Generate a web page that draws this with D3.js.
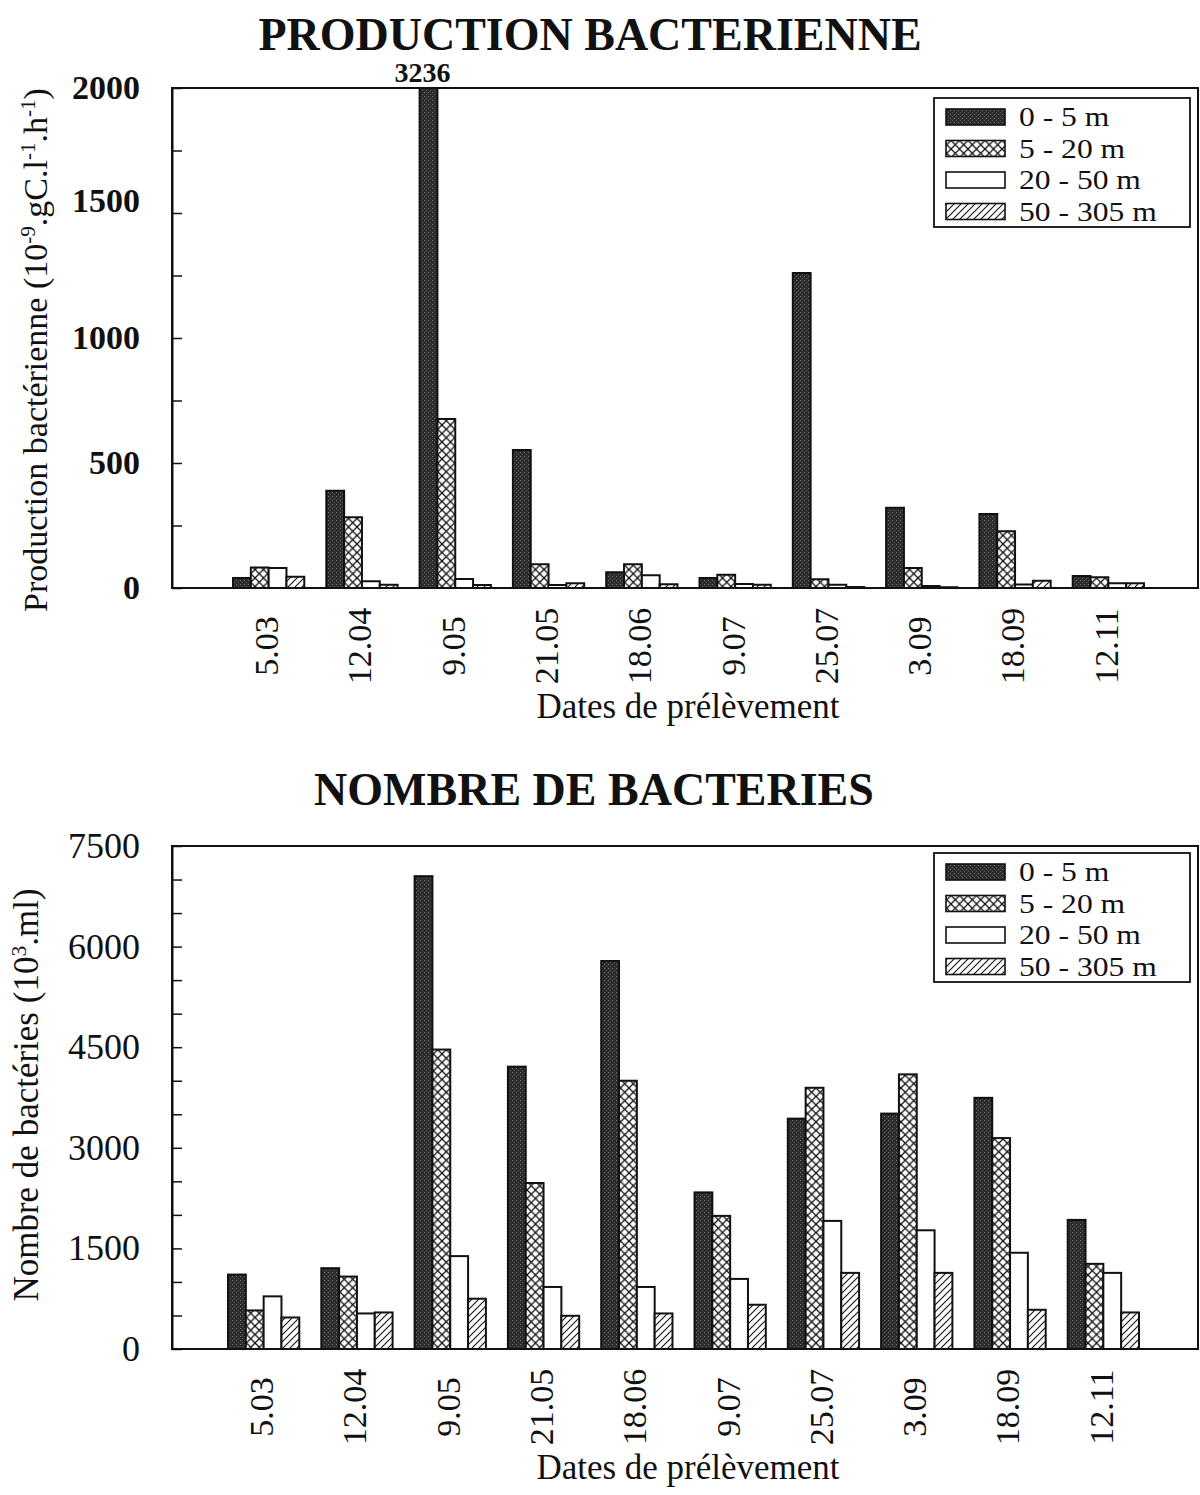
<!DOCTYPE html>
<html><head><meta charset="utf-8">
<script src="https://cdn.jsdelivr.net/npm/d3@7"></script>
<style>
body{margin:0;background:#fff}
svg{display:block}
text{font-family:"Liberation Serif","Times New Roman",serif;fill:#111}
</style>
</head><body>
<svg id="c" width="1200" height="1495"></svg>
<script>
// ---------- DATA ----------
const dates = ["5.03","12.04","9.05","21.05","18.06","9.07","25.07","3.09","18.09","12.11"];
const layers = ["0 - 5 m","5 - 20 m","20 - 50 m","50 - 305 m"];

const prod_0_5   = [40, 389, 3236, 552, 63, 40, 1260, 321, 296, 48];
const prod_5_20  = [82, 283, 676, 95, 95, 53, 35, 80, 227, 43];
const prod_20_50 = [80, 27, 36, 12, 51, 16, 13, 8, 14, 19];
const prod_50_305= [45, 13, 12, 19, 15, 13, 4, 3, 29, 19];
const prodTicks  = [0, 500, 1000, 1500, 2000];

const nb_0_5   = [1110, 1205, 7050, 4210, 5785, 2335, 3435, 3510, 3745, 1925];
const nb_5_20  = [575, 1080, 4465, 2475, 4000, 1985, 3895, 4095, 3145, 1270];
const nb_20_50 = [785, 530, 1385, 925, 925, 1045, 1910, 1770, 1435, 1135];
const nb_50_305= [470, 545, 750, 495, 530, 660, 1135, 1135, 585, 545];
const nbTicks  = [0, 1500, 3000, 4500, 6000, 7500];

// ---------- PATTERNS ----------
const svg = d3.select("#c");
const defs = svg.append("defs");
const st = defs.append("pattern").attr("id","pDark").attr("patternUnits","userSpaceOnUse").attr("width",4).attr("height",4);
st.append("rect").attr("width",4).attr("height",4).attr("fill","#2c2c2c");
st.append("rect").attr("x",0).attr("y",0).attr("width",1).attr("height",1).attr("fill","#777");
st.append("rect").attr("x",2).attr("y",2).attr("width",1).attr("height",1).attr("fill","#5a5a5a");
const ch = defs.append("pattern").attr("id","pCross").attr("patternUnits","userSpaceOnUse").attr("width",8.5).attr("height",8.5);
ch.append("rect").attr("width",8.5).attr("height",8.5).attr("fill","#fff");
ch.append("path").attr("d","M0,0L8.5,8.5M8.5,0L0,8.5").attr("stroke","#111").attr("stroke-width",1.3);
const dh = defs.append("pattern").attr("id","pDiag").attr("patternUnits","userSpaceOnUse").attr("width",7).attr("height",7);
dh.append("rect").attr("width",7).attr("height",7).attr("fill","#fff");
dh.append("path").attr("d","M-1,8L8,-1M-1,1L1,-1M6,8L8,6").attr("stroke","#111").attr("stroke-width",1.1);
const fills = ["url(#pDark)","url(#pCross)","#fff","url(#pDiag)"];

function chart(cfg){
  const g = svg.append("g");
  const L = 172, R = 1198;
  const y = d3.scaleLinear().domain([0, cfg.max]).range([cfg.bottom, cfg.top]).clamp(true);
  const x = d3.scaleBand().domain(dates).range([cfg.x0, cfg.x0 + 933]).paddingInner(0.236).paddingOuter(0.118);
  const xs = d3.scaleBand().domain(layers).range([0, x.bandwidth()]);
  const series = cfg.series;

  layers.forEach((lay, li) => {
    g.append("g").selectAll("rect").data(series[li]).join("rect")
      .attr("x", (d,i) => x(dates[i]) + xs(lay))
      .attr("y", d => y(d))
      .attr("width", xs.bandwidth())
      .attr("height", d => Math.max(0, cfg.bottom - y(d)))
      .attr("fill", fills[li])
      .attr("stroke", "#111").attr("stroke-width", 2);
  });

  g.append("path").attr("d", `M${L},${cfg.top}H${R}V${cfg.bottom}H${L}Z`)
    .attr("fill","none").attr("stroke","#111").attr("stroke-width",2);

  const ax = d3.axisLeft(y)
    .tickValues(d3.range(0, cfg.max + 1, cfg.minor))
    .tickSize(-10).tickSizeOuter(0).tickPadding(cfg.tickPad)
    .tickFormat(d => cfg.majors.includes(d) ? String(d) : "");
  const ag = g.append("g").attr("transform", `translate(${L},0)`).call(ax);
  ag.select(".domain").attr("stroke","#111").attr("stroke-width",2);
  ag.selectAll(".tick line").attr("stroke","#111").attr("stroke-width",1.5);
  ag.selectAll(".tick text").attr("font-family","Liberation Serif")
    .attr("font-size", cfg.tickSize).attr("font-weight", cfg.tickWeight).attr("fill","#111")
    .attr("dy", d => (cfg.labelNudge && cfg.labelNudge[d]) ? (0.32 + cfg.labelNudge[d]) + "em" : "0.32em");

  const xp = d3.scalePoint().domain(dates).range([x(dates[0]) + x.bandwidth()/2, x(dates[9]) + x.bandwidth()/2]);
  const xa = d3.axisBottom(xp).tickSize(0).tickSizeOuter(0);
  const xg = g.append("g").attr("transform", `translate(0,${cfg.bottom})`).call(xa);
  xg.select(".domain").remove();
  xg.selectAll(".tick text")
    .attr("font-family","Liberation Serif").attr("font-size",34).attr("fill","#111")
    .attr("text-anchor","middle").attr("y",0).attr("dy","0.35em")
    .attr("transform", `translate(-3,${cfg.labelOff}) rotate(-90)`);

  g.append("text").attr("x", 688).attr("y", cfg.bottom + 130).attr("text-anchor","middle")
    .attr("font-size", 35).text("Dates de prélèvement");

  g.append("text").attr("x", cfg.titleX).attr("y", cfg.titleY).attr("text-anchor","middle")
    .attr("font-size", 46).attr("font-weight","bold").text(cfg.title);

  const yt = g.append("text").attr("transform", `translate(${cfg.yTitleX},${cfg.yTitleY}) rotate(-90)`)
    .attr("text-anchor","middle").attr("font-size", cfg.yTitleSize);
  cfg.yTitle.forEach(p => {
    const t = yt.append("tspan").text(p[0]);
    if (p[1]) t.attr("font-size", cfg.yTitleSize*0.62).attr("baseline-shift","super");
  });

  const lg = g.append("g").attr("transform", `translate(934,${cfg.legY})`);
  lg.append("rect").attr("width",256).attr("height",129).attr("fill","#fff").attr("stroke","#111").attr("stroke-width",1.8);
  layers.forEach((lay, i) => {
    const cy = 19 + i*31.5;
    lg.append("rect").attr("x",12).attr("y",cy-8).attr("width",59).attr("height",16)
      .attr("fill",fills[i]).attr("stroke","#111").attr("stroke-width",1.6);
    lg.append("text").attr("transform", `translate(85,${cy}) scale(1.17,1)`)
      .attr("dy","0.35em").attr("font-size",27).text(lay);
  });
  return {x, y, xs};
}

const top1 = chart({
  top: 88, bottom: 588, max: 2000, minor: 250, majors: prodTicks, x0: 222,
  series: [prod_0_5, prod_5_20, prod_20_50, prod_50_305],
  tickPad: 32, tickSize: 34, tickWeight: "bold", labelOff: 58, labelNudge: {1500: -0.35},
  title: "PRODUCTION BACTERIENNE", titleX: 590, titleY: 50,
  yTitle: [["Production bactérienne (10"],["-9",1],[".gC.l"],["-1",1],[".h"],["-1",1],[")"]],
  yTitleX: 47, yTitleY: 350, yTitleSize: 34, legY: 98
});
svg.append("text").attr("x", top1.x(dates[2]) + top1.xs(layers[0]) + top1.xs.bandwidth()/2 - 6)
  .attr("y", 82).attr("text-anchor","middle").attr("font-size",28).attr("font-weight","bold")
  .text(String(prod_0_5[2]));

chart({
  top: 846, bottom: 1349, max: 7500, minor: 500, majors: nbTicks, x0: 217,
  series: [nb_0_5, nb_5_20, nb_20_50, nb_50_305],
  tickPad: 32, tickSize: 36, tickWeight: "normal", labelOff: 58,
  title: "NOMBRE DE BACTERIES", titleX: 594, titleY: 805,
  yTitle: [["Nombre de bactéries (10"],["3",1],[".ml)"]],
  yTitleX: 38, yTitleY: 1095, yTitleSize: 35, legY: 853
});
</script>
</body></html>
